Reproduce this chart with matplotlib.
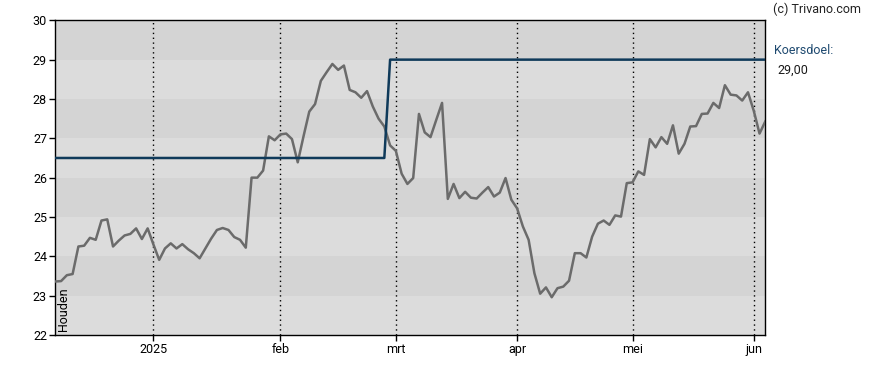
import matplotlib
matplotlib.use("Agg")
import matplotlib.pyplot as plt

plt.rcParams['font.family'] = ['Roboto', 'DejaVu Sans']

# Closing prices per trading day (index 0 = first day shown)
prices = [23.36, 23.37, 23.52, 23.55, 24.25, 24.27, 24.47, 24.42, 24.91, 24.94,
          24.25, 24.40, 24.53, 24.57, 24.71, 24.44, 24.71, 24.30, 23.91, 24.20,
          24.33, 24.20, 24.31, 24.18, 24.08, 23.95, 24.20, 24.45, 24.67, 24.72,
          24.67, 24.49, 24.42, 24.22, 26.00, 26.00, 26.18, 27.05, 26.95, 27.10,
          27.12, 26.98, 26.39, 27.05, 27.68, 27.87, 28.46, 28.68, 28.89, 28.74,
          28.85, 28.23, 28.17, 28.03, 28.20, 27.81, 27.50, 27.30, 26.82, 26.68,
          26.10, 25.84, 25.99, 27.62, 27.15, 27.03, 27.47, 27.90, 25.46, 25.84,
          25.48, 25.64, 25.49, 25.47, 25.62, 25.76, 25.52, 25.62, 25.99, 25.44,
          25.22, 24.76, 24.42, 23.57, 23.05, 23.21, 22.96, 23.19, 23.23, 23.38,
          24.08, 24.08, 23.97, 24.50, 24.83, 24.91, 24.80, 25.04, 25.01, 25.86,
          25.88, 26.16, 26.07, 26.98, 26.77, 27.03, 26.86, 27.33, 26.61, 26.86,
          27.30, 27.31, 27.62, 27.63, 27.90, 27.77, 28.35, 28.11, 28.09, 27.96,
          28.17, 27.70, 27.12, 27.43]

# Price target (koersdoel) per trading day
target_before = 26.5
target_after = 29.0
target_change_idx = 58
targets = [target_before if i < target_change_idx else target_after for i in range(len(prices))]

# Month ticks (trading-day index of first trading day of month)
tick_idx = [17, 39, 59, 80, 100, 121]
tick_labels = ["2025", "feb", "mrt", "apr", "mei", "jun"]

y_ticks = [22, 23, 24, 25, 26, 27, 28, 29, 30]

W, H = 888, 370
fig = plt.figure(figsize=(W / 100, H / 100), dpi=100)
ax = fig.add_axes([55.3 / W, 1 - 335 / H, (765.3 - 55.3) / W, (335 - 20.3) / H])

x = list(range(len(prices)))
ax.set_xlim(0, 123)
ax.set_ylim(22, 30)

# alternating bands
for lo in range(22, 30):
    col = '#d4d4d4' if (lo % 2 == 1) else '#dcdcdc'
    ax.axhspan(lo, lo + 1, color=col, zorder=0, lw=0)

for t in tick_idx:
    ax.axvline(t, color='black', lw=1, ls=(0, (1, 2.5)), zorder=1)

ax.plot(x, prices, color='#6b6b6b', lw=1.8, zorder=3, solid_joinstyle='round')
ax.plot(x, targets, color='#0f3a5a', lw=1.8, zorder=4)

ax.set_xticks(tick_idx)
ax.set_xticklabels(tick_labels)
ax.set_yticks(y_ticks)
ax.tick_params(axis='both', labelsize=9, length=4, width=1, colors='black', pad=2)
for s in ax.spines.values():
    s.set_color('black')
    s.set_linewidth(1)

ax.text(0.003, 0.012, "Houden", rotation=90, transform=ax.transAxes,
        ha='left', va='bottom', fontsize=9, color='black')

fig.text(773 / W, 1 - 9 / H, "(c) Trivano.com", ha='left', va='center', fontsize=9, color='#222222')
fig.text(774 / W, 1 - 51 / H, "Koersdoel:", ha='left', va='center', fontsize=9, color='#1f4a70')
fig.text(777 / W, 1 - 70 / H, "29,00", ha='left', va='center', fontsize=9, color='#1a1a1a')

fig.savefig("out.png", dpi=100)
